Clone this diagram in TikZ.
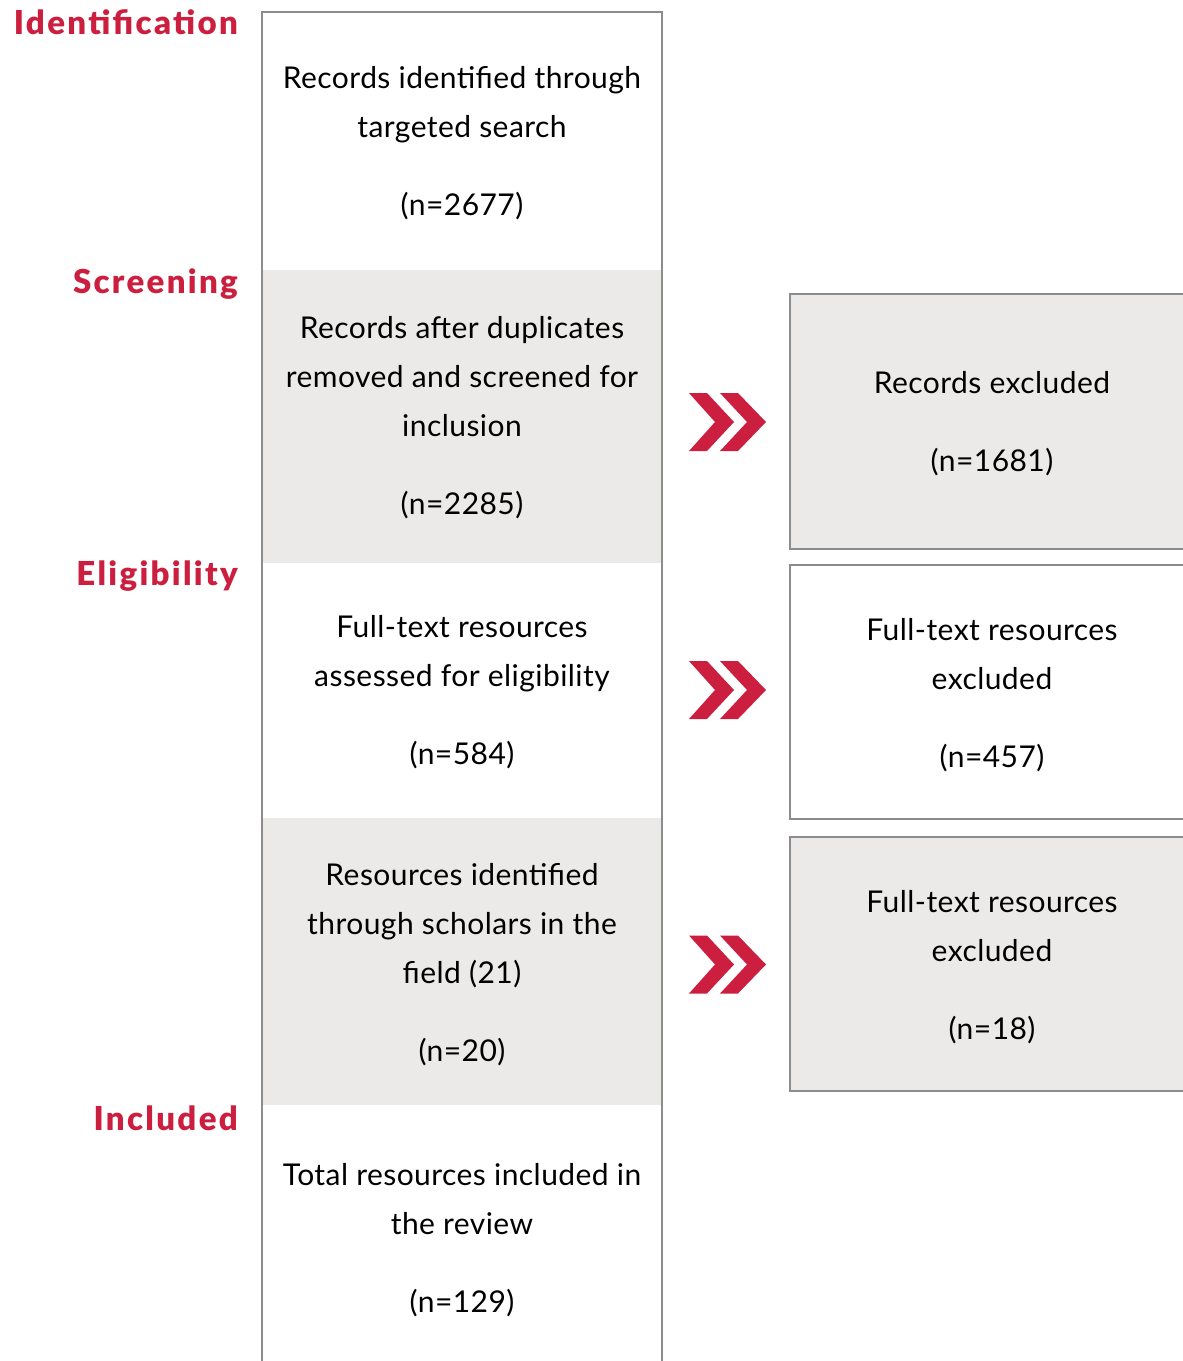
\documentclass[tikz,border=0pt]{standalone}
\usepackage{fontspec}
\setmainfont{Lato}[LetterSpace=1.5]
\newfontfamily\stagefont{Lato Black}[LetterSpace=7]
\usetikzlibrary{positioning}
\definecolor{prismared}{HTML}{CC1F40}
\definecolor{boxgrey}{HTML}{EBEAE8}
\definecolor{edgegrey}{HTML}{8C8C8C}

\begin{document}
\begin{tikzpicture}[x=1pt,y=-1pt]
\tikzstyle{stage}=[font=\fontsize{33}{38}\stagefont, text=prismared, anchor=east, inner sep=0pt]
\tikzstyle{entry}=[align=center, font=\fontsize{30}{49}\selectfont, text=black, inner sep=0pt]
\tikzstyle{band}=[fill=boxgrey]
\tikzstyle{frame}=[draw=edgegrey, line width=2.5pt]
\tikzstyle{chev}=[fill=prismared]

\useasboundingbox (0,0) rectangle (1183,1361);
\clip (0,0) rectangle (1183,1361);

% left column
\fill[band] (263,270) rectangle (661,563);
\fill[band] (263,818) rectangle (661,1105);
\draw[frame] (262,1370) -- (262,12) -- (662,12) -- (662,1370);

% right column
\draw[frame, band] (790,294) rectangle (1194,549);
\draw[frame] (790,565) rectangle (1194,819);
\draw[frame, band] (790,837) rectangle (1194,1091);

% stage labels
\node[stage] (lident) at (238,22) {Identification};
\node[stage] (lscreen) at (238,284) {Screening};
\node[stage] (lelig) at (238,576) {Eligibility};
\node[stage] (lincl) at (238,1118) {Included};

% main flow
\node[entry] (ident) at (462,143) {Records identified through\\targeted search\\[29pt](n=2677)};
\node[entry] (screen) at (462,418) {Records after duplicates\\removed and screened for\\inclusion\\[29pt](n=2285)};
\node[entry] (fulltext) at (462,692.5) {Full-text resources\\assessed for eligibility\\[29pt](n=584)};
\node[entry] (scholars) at (462,964.5) {Resources identified\\through scholars in the\\field (21)\\[29pt](n=20)};
\node[entry] (incl) at (462,1240.5) {Total resources included in\\the review\\[29pt](n=129)};

% exclusions
\node[entry] (excl) at (992,423.5) {Records excluded\\[29pt](n=1681)};
\node[entry] (exft) at (992,695) {Full-text resources\\excluded\\[29pt](n=457)};
\node[entry] (exsch) at (992,967) {Full-text resources\\excluded\\[29pt](n=18)};

% chevrons
\foreach \cy in {422,690,964.5}{
  \fill[chev] (689,\cy-29) -- (707,\cy-29) -- (734,\cy) -- (707,\cy+29) -- (689,\cy+29) -- (715,\cy) -- cycle;
  \fill[chev] (720,\cy-29) -- (738,\cy-29) -- (766,\cy) -- (738,\cy+29) -- (720,\cy+29) -- (747,\cy) -- cycle;
}
\end{tikzpicture}
\end{document}
